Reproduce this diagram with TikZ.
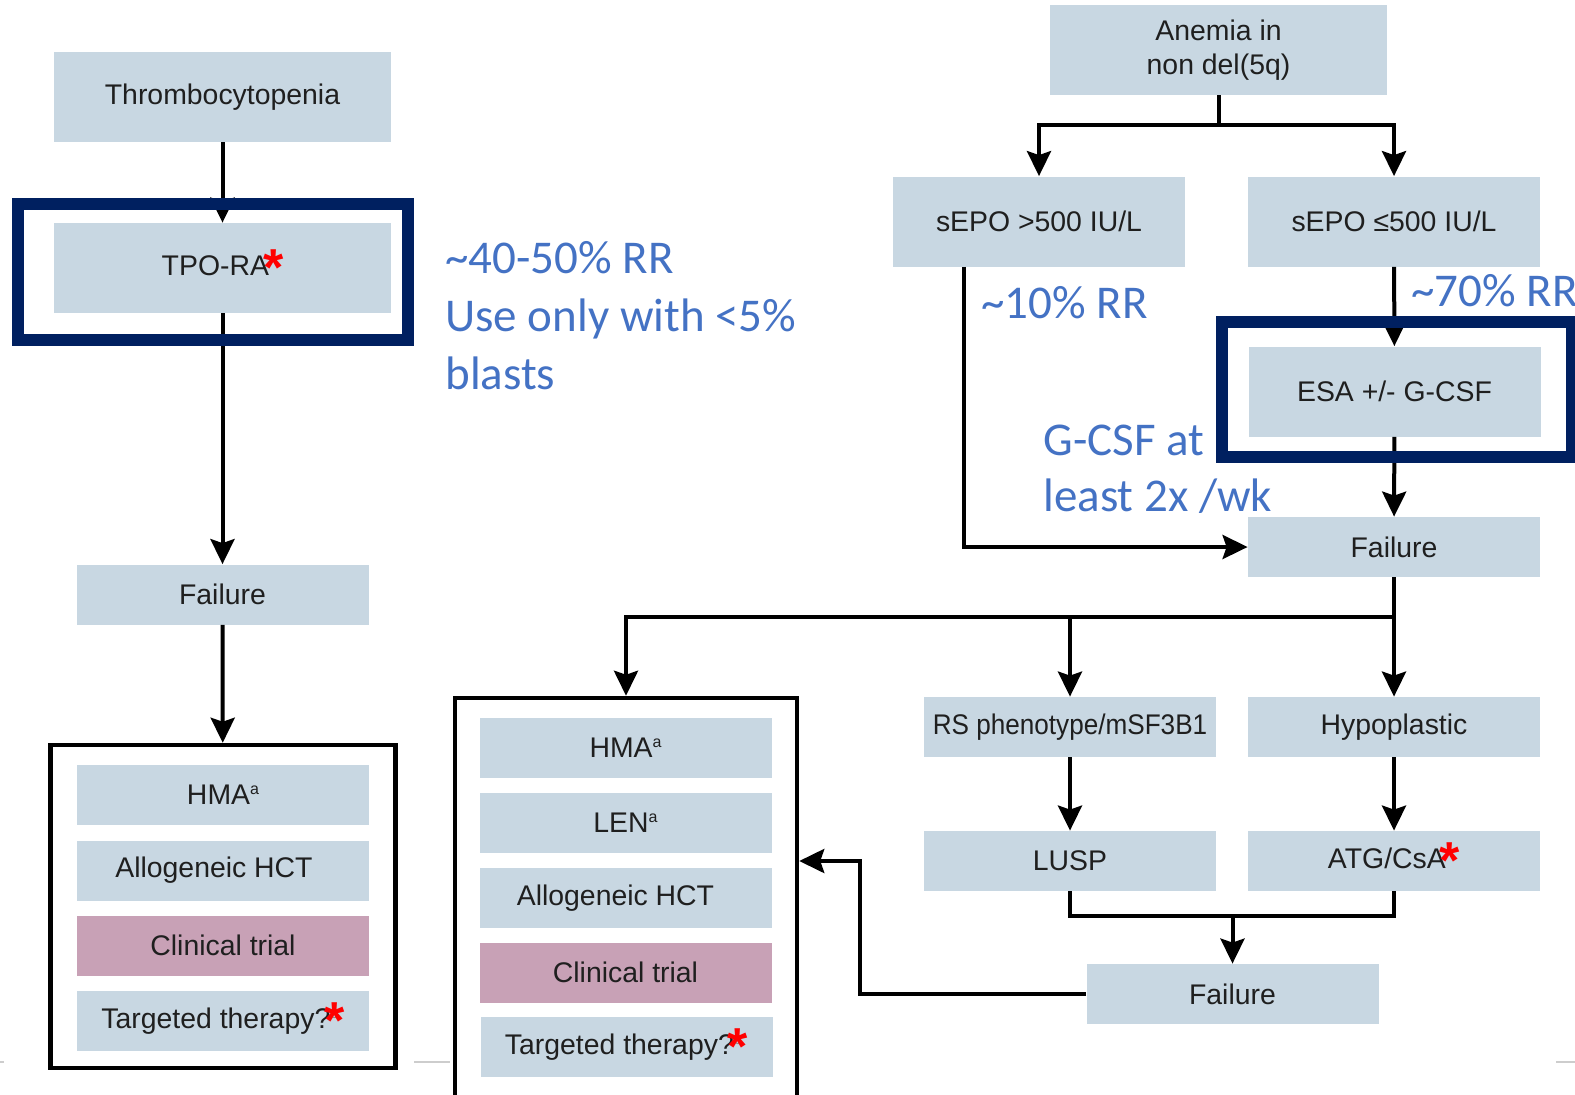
\documentclass[tikz,border=0pt]{standalone}
\usepackage{fontspec}
\setmainfont{Liberation Sans}
\newfontfamily\notefont{Carlito}
\usetikzlibrary{arrows.meta,calc}

\definecolor{boxblue}{RGB}{200,215,226}
\definecolor{trialpink}{RGB}{200,161,182}
\definecolor{navy}{RGB}{0,32,96}
\definecolor{noteblue}{RGB}{68,114,196}
\definecolor{astred}{RGB}{255,0,0}
\definecolor{ghost}{RGB}{140,140,140}
\definecolor{rulegray}{RGB}{205,205,205}

% red footnote asterisk and small superscript letters
\newcommand\redast{\kern-3pt\raisebox{-5pt}{\fontsize{26pt}{26pt}\selectfont\bfseries\textcolor{astred}{*}}}
\newcommand\supl[1]{\raisebox{5pt}{\fontsize{8pt}{8pt}\selectfont #1}}

\begin{document}
\begin{tikzpicture}[x=0.5pt,y=-0.5pt,
  box/.style={fill=boxblue, inner sep=0pt, text=black!88, align=center,
    font=\fontsize{14.2pt}{17pt}\selectfont,
    minimum width=146pt, minimum height=30pt},
  tall/.style={minimum height=45pt},
  wide/.style={minimum width=168.5pt},
  trial/.style={box, fill=trialpink},
  link/.style={line width=2pt, -{Stealth[length=12.5pt,width=12pt,inset=2pt]}},
  plain/.style={line width=2pt},
  frame/.style={draw=black, line width=2.25pt, inner sep=0pt},
  hilite/.style={draw=navy, line width=6pt, inner sep=0pt},
  note/.style={text=noteblue, anchor=base west, inner sep=0pt,
    font=\notefont\fontsize{23.5pt}{28.75pt}\selectfont},
  rule/.style={draw=rulegray, line width=0.8pt}]

\useasboundingbox (0,0) rectangle (1575,1094);

% ---- thrombocytopenia branch ----
\node[box, tall, wide] (thromb) at (222.5,97) {Thrombocytopenia};
\node[box, tall, wide] (tpo) at (222.5,268) {TPO-RA\redast};
\node[box] (failL) at (222.5,594.5) {Failure};
\node[frame, minimum width=172.5pt, minimum height=161.5pt] (lframe) at (223,906.5) {};
\node[box] (lhma) at (223,795) {HMA\supl{a}};
\node[box] (lhct) at (223,870.5) {Allogeneic HCT\hspace{9pt}};
\node[trial] (ltrial) at (223,945.5) {Clinical trial};
\node[box] (ltarget) at (223,1020.5) {Targeted therapy?\rlap{\supl{\textcolor{ghost}{c}}}\redast};

% ---- anemia branch ----
\node[box, tall, wide] (anemia) at (1218.5,50) {Anemia in\\non del(5q)};
\node[box, tall] (sepoH) at (1039,221.5) {sEPO >500 IU/L};
\node[box, tall] (sepoL) at (1394,221.5) {sEPO ≤500 IU/L};
\node[box, tall] (esa) at (1394.5,391.5) {ESA +/- G-CSF};
\node[box] (failR) at (1394,547) {Failure};
\node[box] (rs) at (1070,727) {\scalebox{0.92}[1]{RS phenotype/mSF3B1}};
\node[box] (hypo) at (1394,727) {Hypoplastic};
\node[box] (lusp) at (1070,861) {LUSP};
\node[box] (atg) at (1394,861) {ATG/CsA\redast};
\node[box] (failB) at (1232.5,994) {Failure};

% ---- second-line options ----
\node[frame, minimum width=171pt, minimum height=201pt] (mframe) at (626,899) {};
\node[box] (mhma) at (625.5,748) {HMA\supl{a}};
\node[box] (mlen) at (625.5,823) {LEN\supl{a}};
\node[box] (mhct) at (625.5,898) {Allogeneic HCT\hspace{10pt}};
\node[trial] (mtrial) at (625.5,972.5) {Clinical trial};
\node[box] (mtarget) at (626.5,1047) {Targeted therapy?\rlap{\supl{\textcolor{ghost}{c}}}\redast};

% ---- connectors ----
\draw[link] (thromb) -- (tpo);
\draw[link] (tpo) -- (failL);
\draw[link] (failL) -- (lframe);

\coordinate (anSplit) at (1218.5,125);
\draw[plain] (anemia.south) -- (anSplit);
\draw[link] (anSplit) -| (sepoH.north);
\draw[link] (anSplit) -| (sepoL.north);
\draw[link] ($(sepoH.south)+(-75,0)$) |- (failR.west);
\draw[link] (sepoL) -- (esa);
\draw[link] (esa) -- (failR);

\coordinate (frSplit) at (1394,617);
\draw[plain] (failR.south) -- (frSplit);
\draw[link] (frSplit) -| (mframe.north);
\draw[link] (frSplit) -| (rs.north);
\draw[link] (frSplit) -- (hypo.north);
\draw[link] (rs) -- (lusp);
\draw[link] (hypo) -- (atg);

\coordinate (merge) at (1232.5,916);
\draw[plain] (lusp.south) |- (merge) -| (atg.south);
\draw[link] (merge) -- (failB.north);

\coordinate (back) at (860,861);
\draw[link] (failB.west) -| (back) -- (mframe.east |- back);

% ---- highlight frames ----
\node[hilite, minimum width=195pt, minimum height=68pt] (tpoHi) at (212.5,272) {};
\node[hilite, minimum width=175pt, minimum height=67.5pt] (esaHi) at (1397,389.5) {};

% ---- notes ----
\node[note] (n1) at (445,273) {\textasciitilde 40-50\% RR};
\node[note] (n2) at (445,331) {Use only with <5\%};
\node[note] (n3) at (445,389) {blasts};
\node[note] (n4) at (981,318) {\textasciitilde 10\% RR};
\node[note] (n5) at (1411,306) {\textasciitilde 70\% RR};
\node[note] (n6) at (1043,455) {G-CSF at};
\node[note] (n7) at (1043,511) {least 2x /wk};

% ---- faint rules along the bottom ----
\draw[rule] (0,1062) -- (4,1062);
\draw[rule] (414,1062) -- (450,1062);
\draw[rule] (1556,1062) -- (1575,1062);
\end{tikzpicture}
\end{document}
